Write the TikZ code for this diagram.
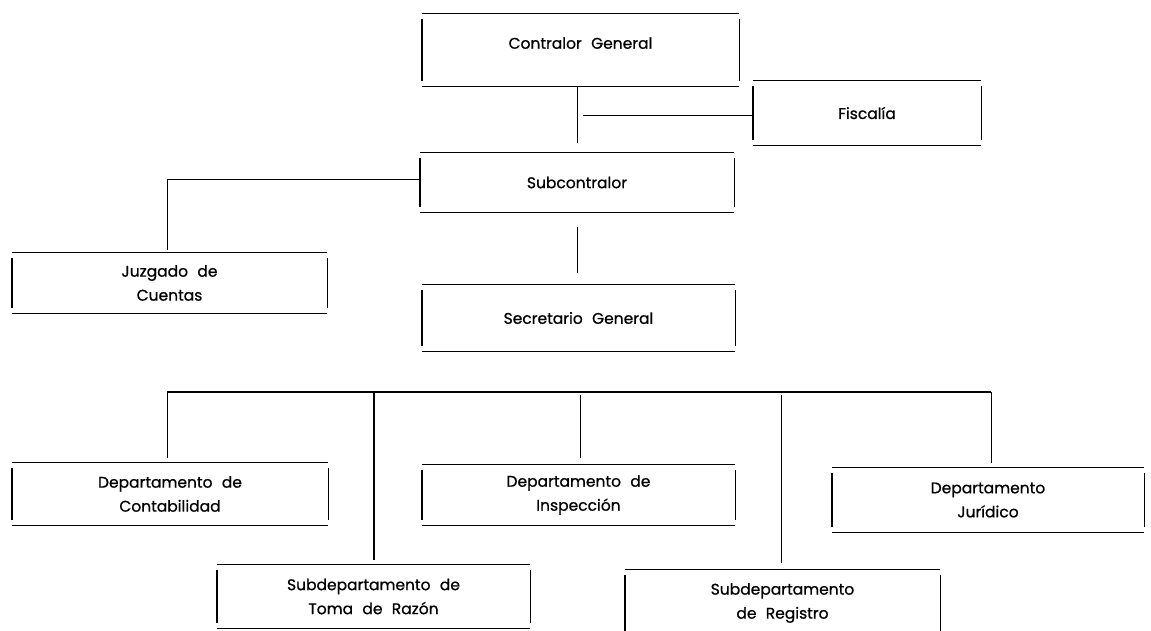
\documentclass[tikz,border=0pt]{standalone}
\usepackage{fontspec}
\setmainfont{Poppins}
\newfontfamily\orgff{Poppins}[FakeBold=0.8]
\newcommand\orgframe[1]{%
  \draw[hline] (#1.north west) -- (#1.north east);
  \draw[hline] (#1.south west) -- (#1.south east);
  \draw[vline] ([yshift=-5pt]#1.north west) -- ([yshift=5pt]#1.south west);
  \draw[vline] ([yshift=-5pt]#1.north east) -- ([yshift=5pt]#1.south east);}
\newcommand\orgfont{\orgff\fontsize{15.5}{24}\selectfont}
\newcommand\widespaces{\spaceskip=0.6em plus 0.1em\relax}
\begin{document}
\begin{tikzpicture}[x=1pt,y=-1pt,
  orgbox/.style={inner sep=0pt, align=center, font=\orgfont,
    execute at begin node=\widespaces},
  hline/.style={line width=1pt},
  vline/.style={line width=1.4pt},
  conn/.style={line width=1pt},
  bus/.style={line width=1.3pt}]
\useasboundingbox (0,0) rectangle (1151,630);
% boxes
\node[orgbox, minimum width=317pt, minimum height=72pt, text depth=14pt] (cg) at (580.5,50) {Contralor General};
\node[orgbox, minimum width=228pt, minimum height=64pt] (fi) at (867,113) {Fiscalía};
\node[orgbox, minimum width=314pt, minimum height=59pt] (sc) at (577,182.5) {Subcontralor};
\node[orgbox, minimum width=315pt, minimum height=60pt] (jc) at (169.5,283) {Juzgado de\\Cuentas};
\node[orgbox, minimum width=313pt, minimum height=66pt] (sg) at (578.5,318) {Secretario General};
\node[orgbox, minimum width=316pt, minimum height=62pt] (dc) at (170,494) {Departamento de\\Contabilidad};
\node[orgbox, minimum width=313pt, minimum height=63pt] (sr) at (373.5,596.5) {Subdepartamento de\\Toma de Razón};
\node[orgbox, minimum width=313pt, minimum height=60pt] (di) at (578.5,495) {Departamento de\\Inspección};
\node[orgbox, minimum width=315pt, minimum height=66pt] (sre) at (782.5,603) {Subdepartamento\\de Registro};
\node[orgbox, minimum width=312pt, minimum height=64pt] (dj) at (988,500) {Departamento\\Jurídico};
\foreach \n in {cg,fi,sc,jc,sg,dc,sr,di,sre,dj}{\orgframe{\n}}
% connectors
\coordinate (j1) at (577,115);
\draw[conn] (cg.south -| j1) -- ([yshift=10pt]sc.north -| j1);
\draw[conn] ([xshift=6pt]j1) -- (fi.west |- j1);
\coordinate (jz) at (167,179);
\draw[conn] (sc.west |- jz) -- (jz) -- ([yshift=3pt]jc.north -| jz);
\draw[conn] ([yshift=-15pt]sc.south) -- ([yshift=12pt]sg.north -| sc.south);
\coordinate (bl) at (167,392);
\coordinate (br) at (991,392);
\coordinate (b2) at (374,392);
\coordinate (b3) at (580,395);
\coordinate (b4) at (781,395);
\draw[bus] (bl) -- (br);
\draw[conn] (bl) -- ([yshift=5pt]dc.north -| bl);
\draw[bus] (b2) -- ([yshift=5pt]sr.north -| b2);
\draw[conn] (b3) -- ([yshift=7pt]di.north -| b3);
\draw[conn] (b4) -- ([yshift=7pt]sre.north -| b4);
\draw[conn] (br) -- ([yshift=5pt]dj.north -| br);
\end{tikzpicture}
\end{document}
